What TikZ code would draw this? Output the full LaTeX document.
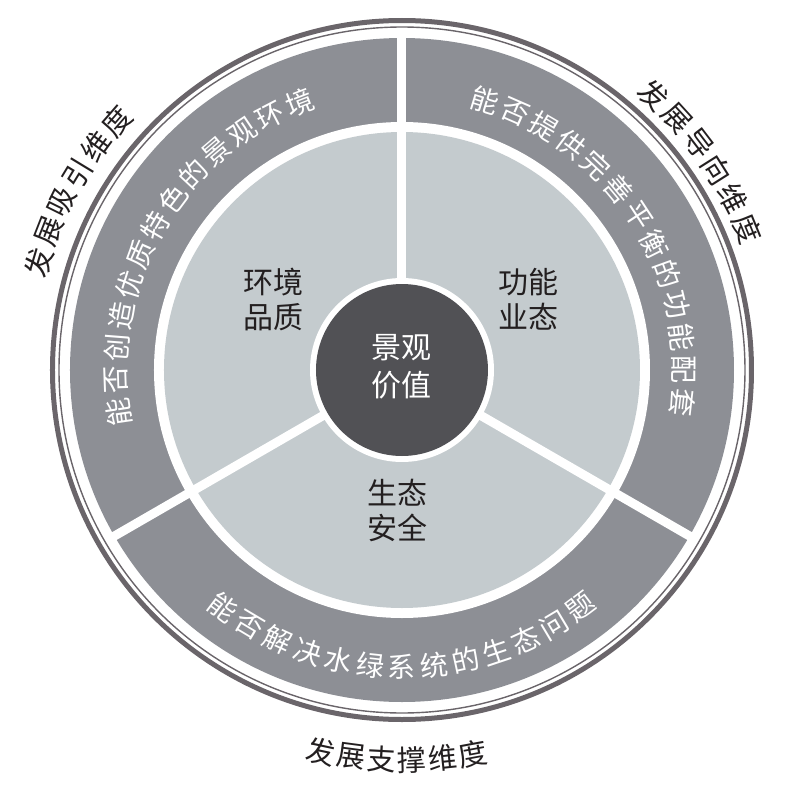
\documentclass[tikz,border=0pt]{standalone}
\usepackage{fontspec}
\newfontfamily\cjk{Noto Sans CJK SC}
\definecolor{bandgray}{HTML}{6A656A}
\definecolor{ringgray}{HTML}{8D8F95}
\definecolor{innergray}{HTML}{C4CBCE}
\definecolor{coregray}{HTML}{515155}
\definecolor{inkblack}{HTML}{231F20}
\tikzset{
  sector/.style = {font=\cjk\fontsize{30}{35}\selectfont, align=center, text=inkblack, inner sep=0pt},
  core/.style = {font=\cjk\fontsize{30}{38}\selectfont, align=center, text=white, inner sep=0pt},
  ringtext/.style = {font=\cjk\fontsize{28}{28}\selectfont, text=white, inner sep=0pt},
  dimtext/.style = {font=\cjk\fontsize{29}{29}\selectfont, text=inkblack, inner sep=0pt},
  divider/.style = {white, line width=9pt}
}

\begin{document}
\begin{tikzpicture}[x=1pt,y=1pt]
  \useasboundingbox (-402,-418) rectangle (385,370);
  \draw[bandgray, line width=5pt] (0,0) circle (349.5);
  \draw[bandgray, line width=1.4pt] (0,0) circle (343);
  \fill[ringgray] (0,0) circle (332);
  \fill[white] (0,0) circle (248);
  \fill[innergray] (0,0) circle (238);
  \foreach \a in {90,210,330}
    \draw[divider] (0,0) -- (\a:336);
  \fill[white] (0,0) circle (92);
  \fill[coregray] (0,0) circle (86);
  \node (core) at (0,3.5) [core] {景观\\价值};
  \node (env) at (-128,70) [sector] {环境\\品质};
  \node (func) at (127,71) [sector] {功能\\业态};
  \node (eco) at (-4,-140) [sector] {生态\\安全};
  % ring texts
  \foreach \c [count=\i, evaluate=\i as \t using 149.7+(7-\i)*6.45] in {能,否,创,造,优,质,特,色,的,景,观,环,境}
    \node (envq\i) at (\t:286) [ringtext, rotate=\t-90] {\c};
  \foreach \c [count=\i, evaluate=\i as \t using 33.2+(7-\i)*6.63] in {能,否,提,供,完,善,平,衡,的,功,能,配,套}
    \node (funcq\i) at (\t:282) [ringtext, rotate=\t-90] {\c};
  \foreach \c [count=\i, evaluate=\i as \t using 270-(7-\i)*6.17] in {能,否,解,决,水,绿,系,统,的,生,态,问,题}
    \node (ecoq\i) at (\t:297) [ringtext, rotate=\t+90] {\c};
  % dimensions
  \foreach \c [count=\i, evaluate=\i as \t using 151.2+(3.5-\i)*4.92] in {发,展,吸,引,维,度}
    \node (attract\i) at (\t:379) [dimtext, rotate=\t-90] {\c};
  \foreach \c [count=\i, evaluate=\i as \t using 34.9+(3.5-\i)*5.04] in {发,展,导,向,维,度}
    \node (guide\i) at (\t:373) [dimtext, rotate=\t-90] {\c};
  \foreach \c [count=\i, evaluate=\i as \t using 269.2-(3.5-\i)*4.5] in {发,展,支,撑,维,度}
    \node (support\i) at (\t:390) [dimtext, rotate=\t+90] {\c};
\end{tikzpicture}
\end{document}
